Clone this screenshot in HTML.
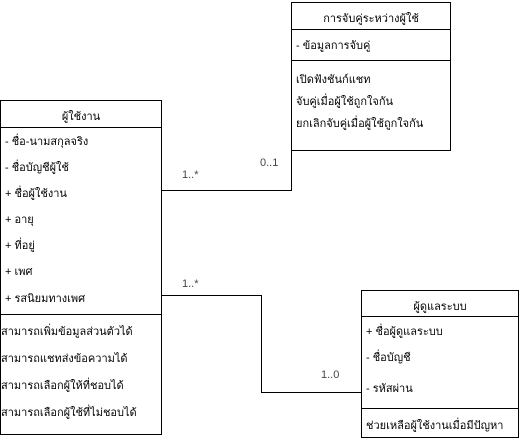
<!DOCTYPE html>
<html><head><meta charset="utf-8"><style>
body{margin:0;width:521px;height:441px;background:#fff;position:relative;overflow:hidden;font-family:"Liberation Sans","Noto Sans CJK SC",sans-serif;font-size:11px;color:#000}
.b{position:absolute;border:1px solid #000;background:#fff;box-sizing:border-box}
.t{position:absolute;white-space:nowrap}
.h{position:absolute;left:0;right:0;border-top:1px solid #000}
.l{position:absolute;background:#000}
.g{position:absolute;color:#444;font-size:11px}
</style></head><body>
<div class="l" style="left:161px;top:190px;width:131px;height:1px"></div>
<div class="l" style="left:291px;top:150px;width:1px;height:41px"></div>
<div class="l" style="left:161px;top:295px;width:101px;height:1px"></div>
<div class="l" style="left:261px;top:295px;width:1px;height:98px"></div>
<div class="l" style="left:261px;top:392px;width:100px;height:1px"></div>
<div class="g" style="left:182px;top:169px">1..*</div>
<div class="g" style="left:260px;top:157px">0..1</div>
<div class="g" style="left:182px;top:278px">1..*</div>
<div class="g" style="left:321px;top:369px">1..0</div>

<div class="b" style="left:0;top:100px;width:162px;height:335px">
<div class="t" style="left:0;right:0;text-align:center;top:6px">ผู้ใช้งาน</div>
<div class="h" style="top:26px"></div>
<div class="t" style="left:4px;top:31px">- ชื่อ-นามสกุลจริง</div>
<div class="t" style="left:4px;top:57px">- ชื่อบัญชีผู้ใช้</div>
<div class="t" style="left:4px;top:83px">+ ชื่อผู้ใช้งาน</div>
<div class="t" style="left:4px;top:109px">+ อายุ</div>
<div class="t" style="left:4px;top:135px">+ ที่อยู่</div>
<div class="t" style="left:4px;top:161px">+ เพศ</div>
<div class="t" style="left:4px;top:188px">+ รสนิยมทางเพศ</div>
<div class="h" style="top:213px"></div>
<div class="t" style="left:0;top:221px">สามารถเพิ่มข้อมูลส่วนตัวได้</div>
<div class="t" style="left:0;top:248px">สามารถแชทส่งข้อความได้</div>
<div class="t" style="left:0;top:275px">สามารถเลือกผู้ให้ที่ชอบได้</div>
<div class="t" style="left:0;top:302px">สามารถเลือกผู้ใช้ที่ไม่ชอบได้</div>
</div>

<div class="b" style="left:291px;top:2px;width:160px;height:149px">
<div class="t" style="left:0;right:0;text-align:center;top:6px">การจับคู่ระหว่างผู้ใช้</div>
<div class="h" style="top:26px"></div>
<div class="t" style="left:4px;top:33px">- ข้อมูลการจับคู่</div>
<div class="h" style="top:57px"></div>
<div class="t" style="left:4px;top:67px">เปิดฟังชันก์แชท</div>
<div class="t" style="left:4px;top:89px">จับคู่เมื่อผู้ใช้ถูกใจกัน</div>
<div class="t" style="left:4px;top:111px">ยกเลิกจับคู่เมื่อผู้ใช้ถูกใจกัน</div>
</div>

<div class="b" style="left:361px;top:290px;width:158px;height:148px">
<div class="t" style="left:0;right:0;text-align:center;top:6px">ผู้ดูแลระบบ</div>
<div class="h" style="top:25px"></div>
<div class="t" style="left:4px;top:31px">+ ชื่อผู้ดูแลระบบ</div>
<div class="t" style="left:4px;top:57px">- ชื่อบัญชี</div>
<div class="t" style="left:4px;top:88px">- รหัสผ่าน</div>
<div class="h" style="top:117px"></div>
<div class="t" style="left:4px;top:125px">ช่วยเหลือผู้ใช้งานเมื่อมีปัญหา</div>
</div>
</body></html>
